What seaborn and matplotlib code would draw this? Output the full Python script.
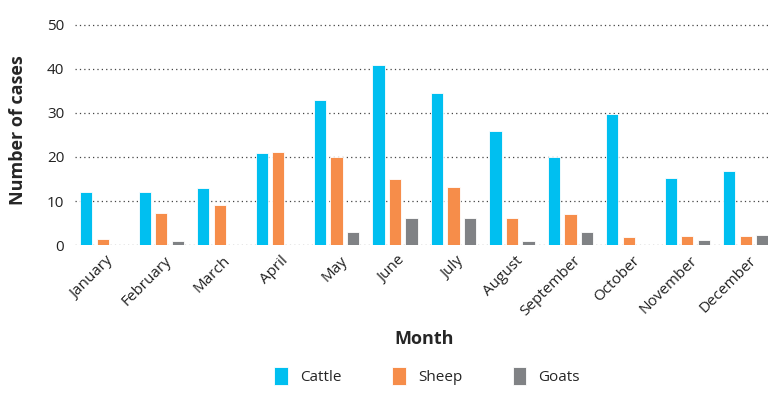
import pandas as pd
import matplotlib.pyplot as plt
import matplotlib.transforms as mtransforms
import seaborn as sns

months = ['January', 'February', 'March', 'April', 'May', 'June', 'July',
          'August', 'September', 'October', 'November', 'December']
cattle = [12, 12, 13, 20.8, 33, 41, 34.6, 25.8, 20, 29.7, 15.3, 16.8]
sheep = [1.3, 7.3, 9, 21.2, 20, 15.1, 13.2, 6.1, 7.1, 1.9, 2.1, 2.1]
goats = [0, 1, 0, 0, 3, 6.1, 6.1, 1, 3, 0, 1.1, 2.2]
species = ['Cattle', 'Sheep', 'Goats']
colors = ['#00BFF0', '#F68D4A', '#808285']

df = pd.DataFrame({'Month': months * 3,
                   'Species': [s for s in species for _ in months],
                   'Cases': cattle + sheep + goats})

sns.set_style('white')
plt.rcParams['font.family'] = ['Open Sans', 'DejaVu Sans']

fig = plt.figure(figsize=(7.68, 4.03), dpi=100)
ax = fig.add_axes([0.098, 0.392, 0.902, 0.568])

sns.barplot(data=df, x='Month', y='Cases', hue='Species', palette=colors,
            saturation=1, width=0.845, gap=0.26, edgecolor='white',
            linewidth=0.6, legend=False, ax=ax)

ax.set_ylim(0, 52)
ax.set_xlim(-0.47, 11.38)
ax.set_yticks([0, 10, 20, 30, 40, 50])
ax.yaxis.grid(True, linestyle=(0, (1, 2.5)), color='#444444', linewidth=0.9)
ax.set_axisbelow(True)
sns.despine(ax=ax, left=True, bottom=True)
ax.tick_params(axis='both', length=0, labelsize=11, colors='#222222')
ax.tick_params(axis='y', pad=8)
ax.tick_params(axis='x', pad=6)
shift = mtransforms.ScaledTranslation(3 / 100, 0, fig.dpi_scale_trans)
for lbl in ax.get_xticklabels():
    lbl.set_rotation(45)
    lbl.set_ha('right')
    lbl.set_rotation_mode('anchor')
    lbl.set_transform(lbl.get_transform() + shift)

ax.set_ylabel('Number of cases', fontsize=13, fontweight='bold', labelpad=14)
ax.set_xlabel('')
fig.text(0.552, 0.16, 'Month', ha='center', va='center',
         fontsize=13, fontweight='bold')

handles = [plt.Rectangle((0, 0), 1, 1, facecolor=c, edgecolor='white', linewidth=0.6)
           for c in colors]
fig.legend(handles, species, loc='center', bbox_to_anchor=(0.556, 0.067), ncol=3,
           frameon=False, fontsize=11, handlelength=0.9, handleheight=1.5,
           columnspacing=3.3, handletextpad=0.8)

fig.savefig('out.png', dpi=100)
